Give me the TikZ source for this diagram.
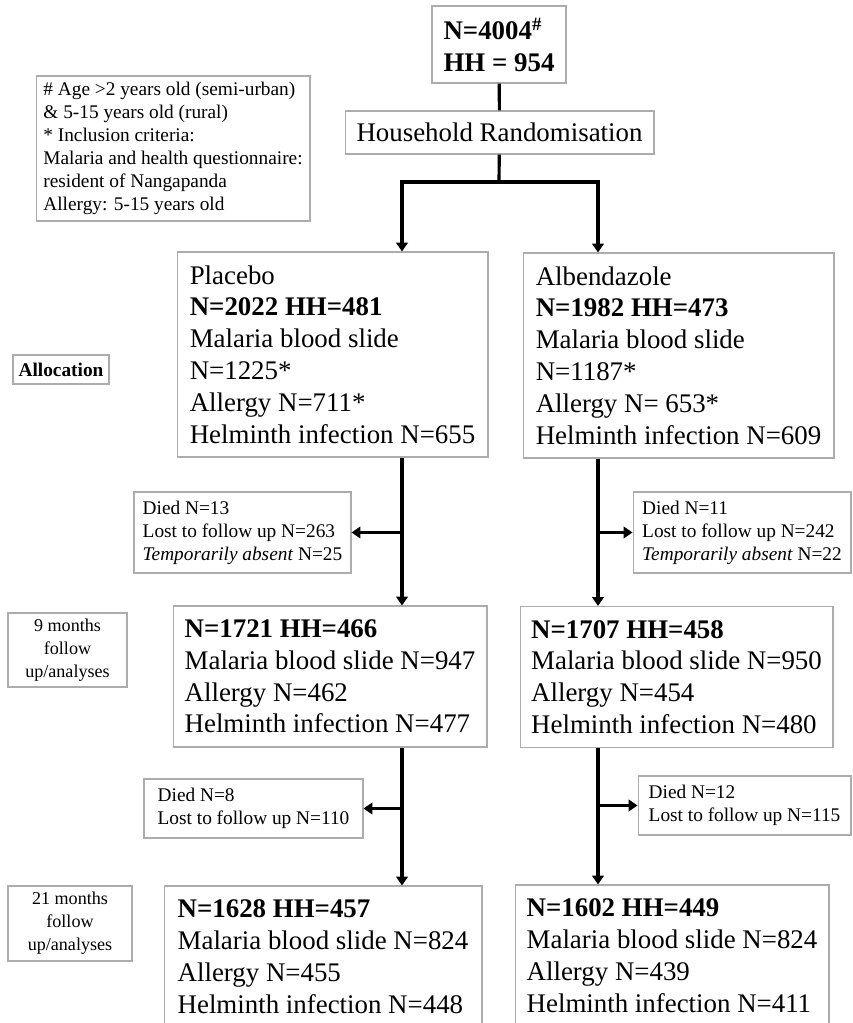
\documentclass[tikz,border=0pt]{standalone}
\usepackage{fontspec}
\setmainfont{Liberation Serif}
\usetikzlibrary{arrows.meta}
\usetikzlibrary{positioning}
\newcommand{\boxfont}{\fontsize{15.3}{18.1}\selectfont}
\newcommand{\notefont}{\fontsize{11}{13.1}\selectfont}
\newcommand{\stagefont}{\fontsize{10.3}{13}\selectfont}
\tikzstyle{main_box} = [
    rectangle,
    draw=gray!65,
    line width=0.6pt,
    align=left,
    font=\boxfont,
    inner sep=2pt
]
\tikzstyle{note_box} = [
    rectangle,
    draw=gray!65,
    line width=0.6pt,
    align=left,
    font=\notefont,
    inner sep=2pt
]
\tikzstyle{stage_box} = [
    rectangle,
    draw=gray!65,
    line width=0.6pt,
    align=center,
    font=\stagefont,
    inner sep=2pt
]
\tikzstyle{flow_line} = [
    line width=1.8pt
]
\tikzstyle{flow_arrow} = [
    line width=1.8pt,
    -{Triangle[length=5pt, width=6.5pt]} % small filled head
]

\begin{document}
\begin{tikzpicture}[x=0.02cm, y=-0.02cm]
\useasboundingbox (0,0) rectangle (852,1023);

% top of the chart
\node [main_box, minimum width=2.68cm, minimum height=1.54cm] (total) at (499,44.5)
    {\textbf{N=4004\textsuperscript{\#}}\\\textbf{HH = 954}};
\node [main_box, minimum width=6.18cm, minimum height=0.86cm] (random) at (499.5,132.5)
    {Household Randomisation};
\node [note_box, minimum width=5.48cm, minimum height=2.9cm] (legend) at (173,148.5)
    {\# Age >2 years old (semi-urban)\\
     \& 5-15 years old (rural)\\
     * Inclusion criteria:\\
     Malaria and health questionnaire:\\
     resident of Nangapanda\\
     Allergy: 5-15 years old};

% allocation
\node [note_box, minimum width=1.92cm, minimum height=0.58cm] (allocation) at (61,369.5)
    {\textbf{Allocation}};
\node [main_box, minimum width=6.22cm, minimum height=4.1cm] (placebo) at (332.5,354.5)
    {Placebo\\
     \textbf{N=2022 HH=481}\\
     Malaria blood slide\\
     N=1225*\\
     Allergy N=711*\\
     Helminth infection N=655};
\node [main_box, minimum width=6.22cm, minimum height=4.1cm] (albendazole) at (678.5,355.5)
    {Albendazole\\
     \textbf{N=1982 HH=473}\\
     Malaria blood slide\\
     N=1187*\\
     Allergy N= 653*\\
     Helminth infection N=609};

% 9 months
\node [note_box, minimum width=4.34cm, minimum height=1.62cm] (lost_p9) at (242.5,532.5)
    {Died N=13\\
     Lost to follow up N=263\\
     \textit{Temporarily absent} N=25};
\node [note_box, minimum width=4.36cm, minimum height=1.62cm] (lost_a9) at (742,532.5)
    {Died N=11\\
     Lost to follow up N=242\\
     \textit{Temporarily absent} N=22};
\node [stage_box, minimum width=2.38cm, minimum height=1.48cm] (stage9) at (67.5,650)
    {9 months\\follow\\up/analyses};
\node [main_box, minimum width=6.28cm, minimum height=2.82cm] (placebo9) at (330,676.5)
    {\textbf{N=1721 HH=466}\\
     Malaria blood slide N=947\\
     Allergy N=462\\
     Helminth infection N=477};
\node [main_box, minimum width=6.26cm, minimum height=2.82cm] (albendazole9) at (676.5,677)
    {\textbf{N=1707 HH=458}\\
     Malaria blood slide N=950\\
     Allergy N=454\\
     Helminth infection N=480};

% 21 months
\node [note_box, minimum width=4.38cm, minimum height=1.18cm] (lost_p21) at (253.5,808.5)
    {Died N=8\\
     Lost to follow up N=110};
\node [note_box, minimum width=4.26cm, minimum height=1.18cm] (lost_a21) at (744.5,805.5)
    {Died N=12\\
     Lost to follow up N=115};
\node [stage_box, minimum width=2.48cm, minimum height=1.5cm] (stage21) at (70,923.5)
    {21 months\\follow\\up/analyses};
\node [main_box, minimum width=6.36cm, minimum height=2.82cm] (placebo21) at (323,956.5)
    {\textbf{N=1628 HH=457}\\
     Malaria blood slide N=824\\
     Allergy N=455\\
     Helminth infection N=448};
\node [main_box, minimum width=6.28cm, minimum height=2.82cm] (albendazole21) at (672,955.5)
    {\textbf{N=1602 HH=449}\\
     Malaria blood slide N=824\\
     Allergy N=439\\
     Helminth infection N=411};

% connectors
\coordinate (split) at (499,182);
\coordinate (trunk_p) at (402,182);
\coordinate (trunk_a) at (598,182);
\draw [flow_line] (total) -- (random);
\draw [flow_line] (random) -- (split);
\draw [flow_arrow] (split) -- (trunk_p) -- (trunk_p |- placebo.north);
\draw [flow_arrow] (split) -- (trunk_a) -- (trunk_a |- albendazole.north);

\draw [flow_arrow] (trunk_p |- placebo.south) -- (trunk_p |- placebo9.north);
\draw [flow_arrow] (trunk_p |- lost_p9.east) -- (lost_p9.east);
\draw [flow_arrow] (trunk_a |- albendazole.south) -- (trunk_a |- albendazole9.north);
\draw [flow_arrow] (trunk_a |- lost_a9.west) -- (lost_a9.west);

\draw [flow_arrow] (trunk_p |- placebo9.south) -- (trunk_p |- placebo21.north);
\draw [flow_arrow] (trunk_p |- lost_p21.east) -- (lost_p21.east);
\draw [flow_arrow] (trunk_a |- albendazole9.south) -- (trunk_a |- albendazole21.north);
\draw [flow_arrow] (trunk_a |- lost_a21.west) -- (lost_a21.west);
\end{tikzpicture}
\end{document}
